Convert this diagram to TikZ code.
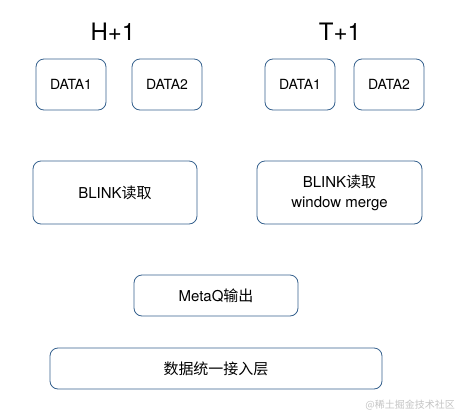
\documentclass[tikz,border=0pt]{standalone}
\usepackage{fontspec}
\setmainfont{TeX Gyre Heros}
\newfontfamily\cjk{Noto Sans CJK SC}
\usetikzlibrary{positioning}
\definecolor{BoxBlue}{HTML}{36618E}
\definecolor{MarkGray}{HTML}{C4C4C4}

\begin{document}
\begin{tikzpicture}[x=1pt, y=-1pt,
  every node/.style={font=\fontsize{15}{20}\selectfont, inner sep=0pt, align=center},
  box/.style={draw=BoxBlue, line width=0.8pt, rounded corners=8pt, fill=white}]
\useasboundingbox (0,0) rectangle (467,418);
% time labels
\node[font=\fontsize{24}{28}\selectfont] (hlab) at (113,32) {H+1};
\node[font=\fontsize{24}{28}\selectfont] (tlab) at (340,32) {T+1};
% data boxes
\foreach \name/\label/\x in {hd1/DATA1/71,hd2/DATA2/167,td1/DATA1/300,td2/DATA2/389}{
  \node[box, minimum width=70pt, minimum height=51pt, font=\fontsize{14}{16}\selectfont] (\name) at (\x,84.5) {\label};
}
\node[box, minimum width=164pt, minimum height=63pt] (hb) at (115,192.5) {BLINK{\cjk 读取}};
\node[box, minimum width=165pt, minimum height=63pt] (tb) at (339.5,192.5) {BLINK{\cjk 读取}\\window merge};
\node[box, minimum width=164pt, minimum height=41pt] (mq) at (216,295.5) {MetaQ{\cjk 输出}};
\node[box, minimum width=332pt, minimum height=41pt] (acc) at (216,368.5) {\cjk 数据统一接入层};
% watermark
\node[anchor=east, text=MarkGray, font=\cjk\fontsize{10}{12}\selectfont] (mark) at (455,405) {@稀土掘金技术社区};
\end{tikzpicture}
\end{document}
